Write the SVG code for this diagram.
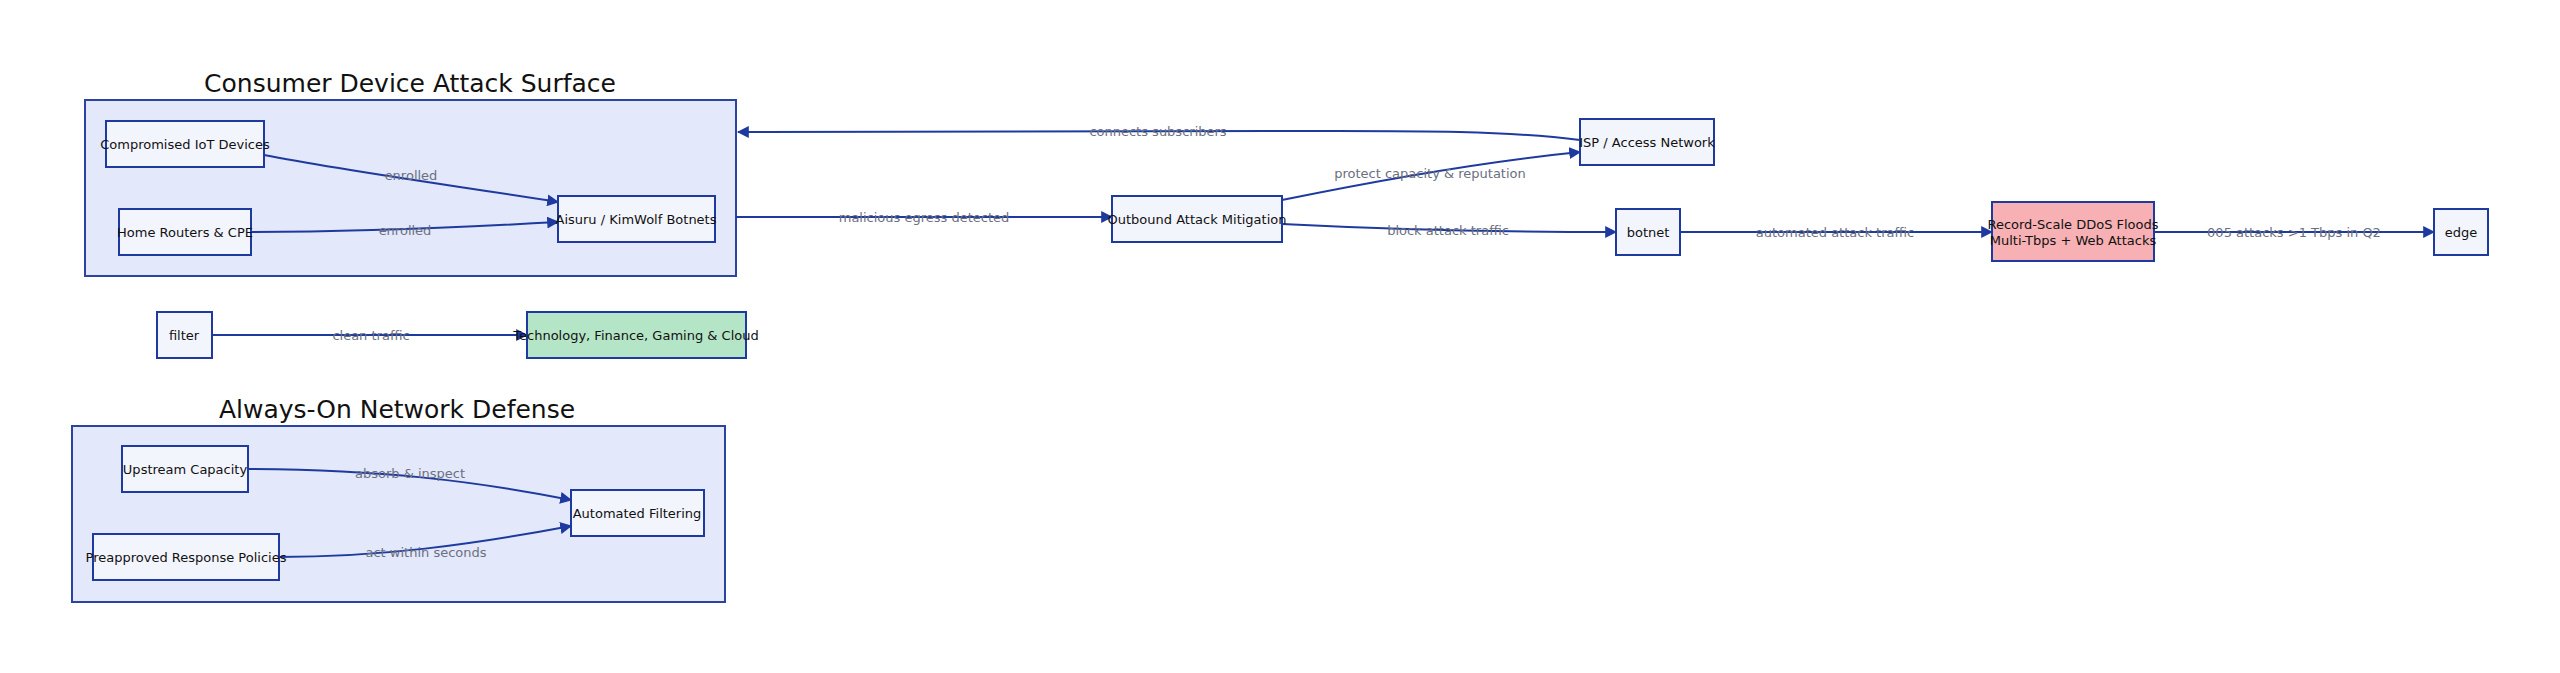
<svg xmlns="http://www.w3.org/2000/svg" width="2560" height="673" viewBox="0 0 2560 673">
<style>
.cl{fill:#e3e8fb;stroke:#2b44a0;stroke-width:2}
.n{fill:#f3f5fd;stroke:#1e3a9e;stroke-width:2}
.t{font-family:"DejaVu Sans",sans-serif;font-size:13px;fill:#111;text-anchor:middle;dominant-baseline:central}
.ct{font-family:"DejaVu Sans",sans-serif;font-size:25px;fill:#111;text-anchor:middle}
.e{fill:none;stroke:#1e3a9e;stroke-width:2;marker-end:url(#a)}
.l{font-family:"DejaVu Sans",sans-serif;font-size:13px;fill:#6b7080;text-anchor:middle;dominant-baseline:central}
</style>
<defs><marker id="a" viewBox="0 0 10 10" refX="9" refY="5" markerWidth="6" markerHeight="6" orient="auto"><path d="M0,0L10,5L0,10z" fill="#1e3a9e"/></marker></defs>
<rect width="2560" height="673" fill="#fff"/>
<g id="cluster1"><rect class="cl" x="85" y="100" width="651" height="176"/><text class="ct" x="410" y="92">Consumer Device Attack Surface</text></g>
<g id="cluster2"><rect class="cl" x="72" y="426" width="653" height="176"/><text class="ct" x="397" y="418">Always-On Network Defense</text></g>
<g id="edges">
<path class="e" d="M264,155 C340,170 450,185 558,202"/>
<path class="e" d="M251,232 C360,232 450,228 558,222"/>
<path class="e" d="M1580,140 C1500,130 1400,131 1300,131 L738,132"/>
<path class="e" d="M736,217 L1112,217"/>
<path class="e" d="M1282,200 C1380,180 1480,162 1580,152"/>
<path class="e" d="M1282,224 C1400,230 1500,232 1616,232"/>
<path class="e" d="M1680,232 L1992,232"/>
<path class="e" d="M2154,232 L2434,232"/>
<path class="e" d="M212,335 L527,335"/>
<path class="e" d="M248,469 C380,470 470,480 571,500"/>
<path class="e" d="M279,557 C380,557 470,545 571,526"/>
</g>
<g id="labels">
<text class="l" x="411" y="175">enrolled</text>
<text class="l" x="405" y="230">enrolled</text>
<text class="l" x="1158" y="131">connects subscribers</text>
<text class="l" x="924" y="217">malicious egress detected</text>
<text class="l" x="1430" y="173">protect capacity &amp; reputation</text>
<text class="l" x="1448" y="230">block attack traffic</text>
<text class="l" x="1835" y="232">automated attack traffic</text>
<text class="l" x="2294" y="232">005 attacks &gt;1 Tbps in Q2</text>
<text class="l" x="371" y="335">clean traffic</text>
<text class="l" x="410" y="473">absorb &amp; inspect</text>
<text class="l" x="426" y="552">act within seconds</text>
</g>
<g id="iot"><rect class="n" x="106" y="121" width="158" height="46"/><text class="t" x="185" y="144">Compromised IoT Devices</text></g>
<g id="routers"><rect class="n" x="119" y="209" width="132" height="46"/><text class="t" x="185" y="232">Home Routers &amp; CPE</text></g>
<g id="aisuru"><rect class="n" x="558" y="196" width="157" height="46"/><text class="t" x="636" y="219">Aisuru / KimWolf Botnets</text></g>
<g id="outbound"><rect class="n" x="1112" y="196" width="170" height="46"/><text class="t" x="1197" y="219">Outbound Attack Mitigation</text></g>
<g id="isp"><rect class="n" x="1580" y="119" width="134" height="46"/><text class="t" x="1647" y="142">ISP / Access Network</text></g>
<g id="botnet"><rect class="n" x="1616" y="209" width="64" height="46"/><text class="t" x="1648" y="232">botnet</text></g>
<g id="record"><rect class="n" x="1992" y="202" width="162" height="59" style="fill:#f7b0b3"/><text class="t" x="2073" y="224">Record-Scale DDoS Floods</text><text class="t" x="2073" y="240">Multi-Tbps + Web Attacks</text></g>
<g id="edge"><rect class="n" x="2434" y="209" width="54" height="46"/><text class="t" x="2461" y="232">edge</text></g>
<g id="filter"><rect class="n" x="157" y="312" width="55" height="46"/><text class="t" x="184" y="335">filter</text></g>
<g id="tech"><rect class="n" x="527" y="312" width="219" height="46" style="fill:#b5e5c7"/><text class="t" x="636" y="335">Technology, Finance, Gaming &amp; Cloud</text></g>
<g id="upstream"><rect class="n" x="122" y="446" width="126" height="46"/><text class="t" x="185" y="469">Upstream Capacity</text></g>
<g id="policies"><rect class="n" x="93" y="534" width="186" height="46"/><text class="t" x="186" y="557">Preapproved Response Policies</text></g>
<g id="filtering"><rect class="n" x="571" y="490" width="133" height="46"/><text class="t" x="637" y="513">Automated Filtering</text></g>
</svg>
